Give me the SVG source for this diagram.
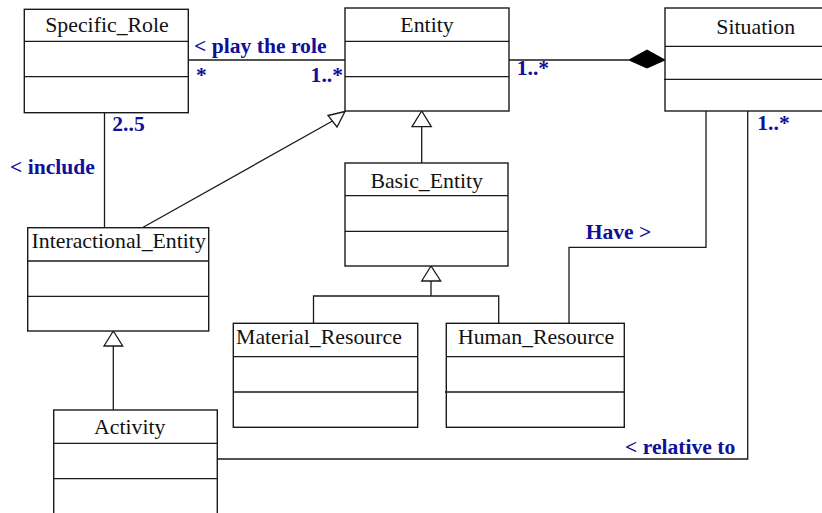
<svg xmlns="http://www.w3.org/2000/svg" width="822" height="513" viewBox="0 0 822 513">
<style>
.box{fill:#fff;stroke:#1a1a1a;stroke-width:1.4}
.div{stroke:#1a1a1a;stroke-width:1.3}
.name{font-family:"Liberation Serif",serif;font-size:21.8px;fill:#111}
.lbl{font-family:"Liberation Serif",serif;font-size:21.6px;font-weight:bold;fill:#10109a}
.ln{fill:none;stroke:#1a1a1a;stroke-width:1.3}
.tri{fill:#fff;stroke:#1a1a1a;stroke-width:1.3}
</style>
<g id="connectors">
<path class="ln" d="M188,60 H345"/>
<path class="ln" d="M509,60 H629"/>
<polygon points="629,60 647,50 665,60 647,68" fill="#000" stroke="#000" stroke-width="1"/>
<path class="ln" d="M104.5,112.7 V227.7"/>
<path class="ln" d="M142.3,227.7 L332.5,121"/>
<polygon class="tri" points="345,111.5 328,115.5 337,127"/>
<path class="ln" d="M421.7,126.7 V163"/>
<polygon class="tri" points="421.7,111 412,126.7 431.3,126.7"/>
<path class="ln" d="M431,281 V296 M313.5,323.3 V296 H498.7 V323.3"/>
<polygon class="tri" points="431,266 421.7,281 440.7,281"/>
<path class="ln" d="M113.3,346 V410"/>
<polygon class="tri" points="113.3,331 104,346 122.7,346"/>
<path class="ln" d="M706,111 V247.3 H569 V323.3"/>
<path class="ln" d="M217.3,459 H747.7 V111"/>
<text class="lbl" x="194" y="53">&lt; play the role</text>
<text class="lbl" x="196" y="82">*</text>
<text class="lbl" x="343" y="82" text-anchor="end">1..*</text>
<text class="lbl" x="516.7" y="75">1..*</text>
<text class="lbl" x="112.3" y="131">2..5</text>
<text class="lbl" x="10" y="173.5">&lt; include</text>
<text class="lbl" x="757.3" y="129.5">1..*</text>
<text class="lbl" x="585.7" y="239">Have &gt;</text>
<text class="lbl" x="625" y="453.5">&lt; relative to</text>
</g>
<g id="Specific_Role">
<rect class="box" x="24.3" y="9.3" width="164" height="103.4"/>
<path class="div" d="M24.3,41.3 H188.3 M24.3,76.7 H188.3"/>
<text class="name" x="107" y="32" text-anchor="middle">Specific_Role</text>
</g>
<g id="Entity">
<rect class="box" x="345" y="8" width="164" height="103"/>
<path class="div" d="M345,41.3 H509 M345,76.7 H509"/>
<text class="name" x="427" y="32" text-anchor="middle">Entity</text>
</g>
<g id="Situation">
<rect class="box" x="665" y="8" width="180" height="103"/>
<path class="div" d="M665,46.3 H845 M664,79.3 H845"/>
<text class="name" x="755.7" y="34" text-anchor="middle">Situation</text>
</g>
<g id="Basic_Entity">
<rect class="box" x="345" y="163" width="163" height="103"/>
<path class="div" d="M345,195.7 H508 M345,231.3 H508"/>
<text class="name" x="426.7" y="188" text-anchor="middle">Basic_Entity</text>
</g>
<g id="Interactional_Entity">
<rect class="box" x="27.7" y="227.7" width="181" height="103.3"/>
<path class="div" d="M27.7,261 H208.7 M27.7,296.3 H208.7"/>
<text class="name" x="31.5" y="247.7">Interactional_Entity</text>
</g>
<g id="Material_Resource">
<rect class="box" x="233.3" y="323.3" width="184.4" height="104"/>
<path class="div" d="M233.3,356.7 H417.7 M233.3,392 H417.7"/>
<text class="name" x="236" y="344">Material_Resource</text>
</g>
<g id="Human_Resource">
<rect class="box" x="446.3" y="323.3" width="178" height="104"/>
<path class="div" d="M446.3,356.7 H624.3 M445,392 H624.3"/>
<text class="name" x="536" y="344" text-anchor="middle">Human_Resource</text>
</g>
<g id="Activity">
<rect class="box" x="53.7" y="410" width="163.6" height="110"/>
<path class="div" d="M53.7,443.3 H217.3 M53.7,478.7 H217.3"/>
<text class="name" x="129.7" y="434.3" text-anchor="middle">Activity</text>
</g>
</svg>
